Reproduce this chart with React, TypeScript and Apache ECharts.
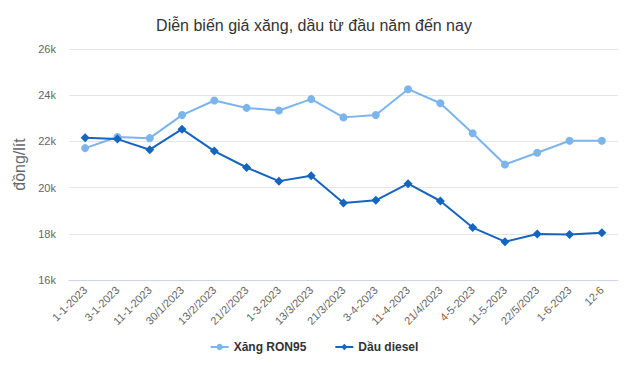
import React, { useEffect, useRef } from "react";
import * as echarts from "echarts";

const categories = ["1-1-2023", "3-1-2023", "11-1-2023", "30/1/2023", "13/2/2023", "21/2/2023", "1-3-2023", "13/3/2023", "21/3/2023", "3-4-2023", "11-4-2023", "21/4/2023", "4-5-2023", "11-5-2023", "22/5/2023", "1-6-2023", "12-6"];
const ron95 = [21710, 22190, 22140, 23140, 23770, 23450, 23340, 23830, 23040, 23140, 24260, 23650, 22350, 21000, 21510, 22030, 22030];
const diesel = [22160, 22100, 21640, 22530, 21580, 20870, 20280, 20510, 19330, 19450, 20170, 19420, 18270, 17660, 17990, 17970, 18050];
const seriesNames = ["Xăng RON95", "Dầu diesel"];
const titleText = "Diễn biến giá xăng, dầu từ đầu năm đến nay";
const yAxisName = "đồng/lít";

export default function App() {
  const ref = useRef<HTMLDivElement>(null);
  useEffect(() => {
    if (!ref.current) return;
    const chart = echarts.init(ref.current, undefined, { renderer: "svg" });
    const font = "Liberation Sans, Arial, sans-serif";
    chart.setOption({
      animation: false,
      textStyle: { fontFamily: font },
      title: {
        text: titleText,
        left: "center",
        top: 12,
        textStyle: { fontSize: 16, fontWeight: "normal", color: "#333333", fontFamily: font },
      },
      legend: {
        bottom: 8,
        left: "center",
        itemWidth: 18,
        itemHeight: 8,
        itemGap: 28,
        textStyle: { fontSize: 12, fontWeight: "bold", color: "#333333", fontFamily: font },
        data: seriesNames,
      },
      grid: { left: 69, right: 10, top: 49, bottom: 86 },
      xAxis: {
        type: "category",
        data: categories,
        boundaryGap: true,
        axisLine: { lineStyle: { color: "#ccd6eb" } },
        axisTick: { show: false },
        axisLabel: { rotate: 45, fontSize: 11, color: "#666666", margin: 8, interval: 0, fontFamily: font },
      },
      yAxis: {
        type: "value",
        min: 16000,
        max: 26000,
        interval: 2000,
        name: yAxisName,
        nameLocation: "middle",
        nameGap: 39,
        nameTextStyle: { fontSize: 16, color: "#666666", fontFamily: font },
        axisLabel: {
          fontSize: 11,
          color: "#666666",
          margin: 13,
          fontFamily: font,
          formatter: (v: number) => v / 1000 + "k",
        },
        splitLine: { lineStyle: { color: "#e6e6e6" } },
      },
      series: [
        {
          name: seriesNames[0],
          type: "line",
          data: ron95,
          symbol: "circle",
          symbolSize: 8,
          color: "#7cb5ec",
          lineStyle: { width: 2 },
        },
        {
          name: seriesNames[1],
          type: "line",
          data: diesel,
          symbol: "diamond",
          symbolSize: 9,
          color: "#1565c0",
          lineStyle: { width: 2 },
        },
      ],
    });
    return () => chart.dispose();
  }, []);
  return <div ref={ref} style={{ width: 628, height: 366, position: "absolute", left: 0, top: 0 }} />;
}
